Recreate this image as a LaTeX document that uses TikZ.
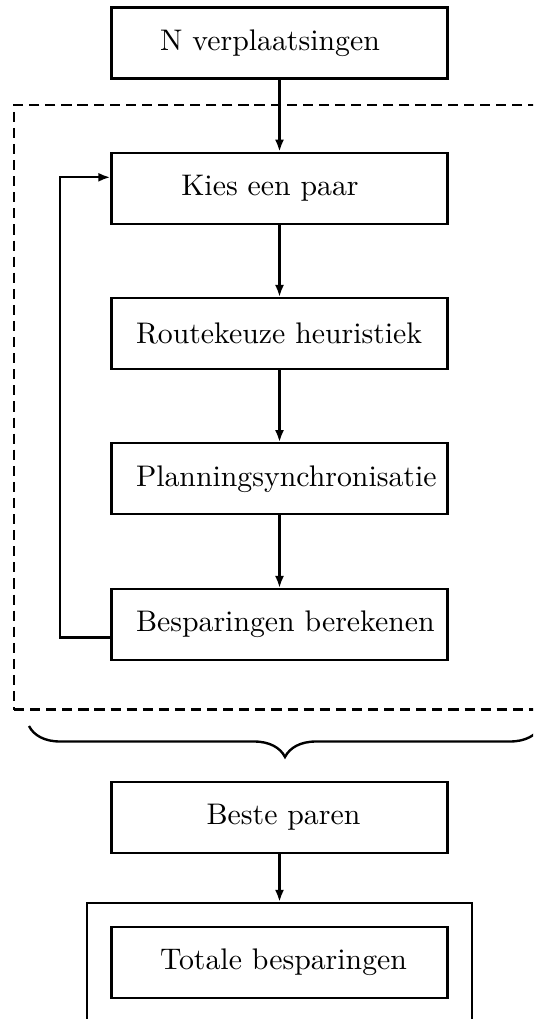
\documentclass[tikz,border=0pt]{standalone}
\usetikzlibrary{arrows.meta,decorations.pathreplacing,calc}
\begin{document}
\begin{tikzpicture}[x=0.3356pt,y=-0.3356pt,
  line width=0.8pt,
  boxnode/.style={draw, line width=0.8pt, minimum width=112.76pt, minimum height=23.83pt, inner sep=0pt},
  txt/.style={text width=89.94pt, align=center, inner sep=0pt, font=\normalsize},
  arr/.style={-{Latex[length=4pt,width=3pt]}, line width=0.75pt},
  dashbox/.style={draw, line width=0.85pt, dash pattern=on 3.4pt off 2pt, minimum width=178.2pt, minimum height=202.9pt, inner sep=0pt},
  bracedeco/.style={decorate, decoration={brace, mirror, amplitude=10.4pt}, line width=0.8pt}
]
\clip (0,0) rectangle (533,1019);
\useasboundingbox (0,0) rectangle (533,1019);

% dashed frame
\node[dashbox] (group) at (279.5,407.25) {};

% boxes
\node[boxnode] (n) at (279.5,43) {};
\node[txt] (nt) at (270,43) {\mbox{N verplaatsingen}};
\node[boxnode] (kies) at (279.5,188.3) {};
\node[txt] (kiest) at (270,188.3) {\mbox{Kies een paar}};
\node[boxnode] (route) at (279.5,333.6) {};
\node[txt] (routet) at (270,333.6) {\mbox{Routekeuze heuristiek}};
\node[boxnode] (plan) at (279.5,478.8) {};
\node[txt] (plant) at (270,478.8) {\mbox{Planningsynchronisatie}};
\node[boxnode] (bes) at (279.5,624.6) {};
\node[txt] (best) at (270,624.6) {\mbox{Besparingen berekenen}};

\node[boxnode] (beste) at (279.5,817.5) {};
\node[txt] (bestet) at (283.5,817.5) {\mbox{Beste paren}};
\node[draw, line width=0.8pt, minimum width=129.2pt, minimum height=48.3pt, inner sep=0pt] (outer) at (279.5,975) {};
\node[boxnode] (tot) at (279.5,962.7) {};
\node[txt] (tott) at (283.5,962.7) {\mbox{Totale besparingen}};

% connectors
\draw[arr] (n) -- (kies);
\draw[arr] (kies) -- (route);
\draw[arr] (route) -- (plan);
\draw[arr] (plan) -- (bes);
\draw[arr] ($(bes.west)+(0,13)$) -- ++(-50,0) |- ($(kies.west)+(0,-11)$);
\draw[arr] (beste) -- (outer);

% brace
\coordinate (bl) at (29,726);
\coordinate (br) at (541,726);
\draw[bracedeco] (bl) -- (br);
\end{tikzpicture}
\end{document}
